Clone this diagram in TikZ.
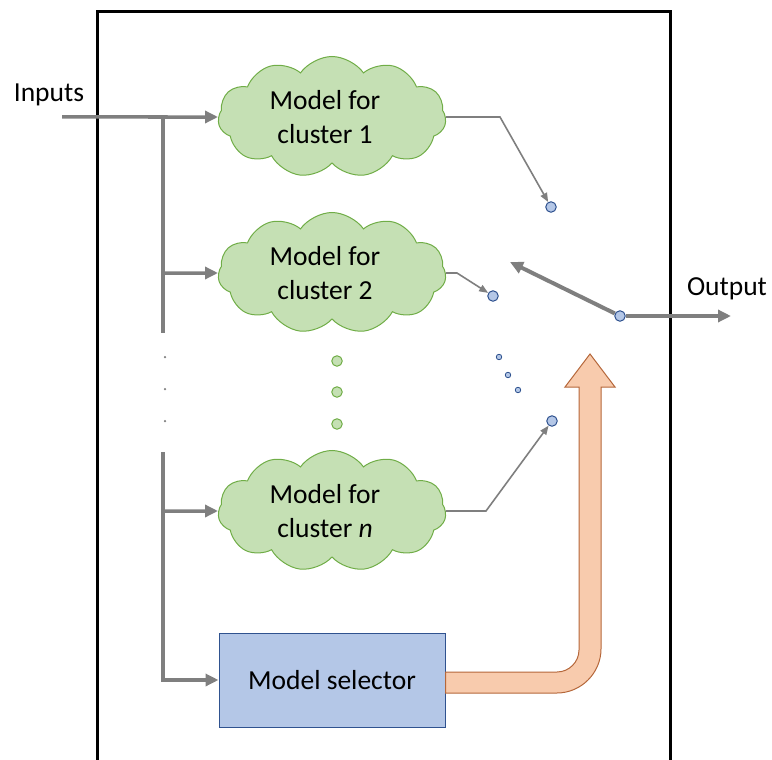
\documentclass[tikz,border=0pt]{standalone}
\usepackage{fontspec}
\setmainfont{Carlito}
\usetikzlibrary{shapes.symbols,arrows.meta}
\definecolor{cgreen}{HTML}{C5E0B4}
\definecolor{cgreenD}{HTML}{70AD47}
\definecolor{cblue}{HTML}{B4C7E7}
\definecolor{cblueD}{HTML}{2F528F}
\definecolor{corange}{HTML}{F8CBAD}
\definecolor{corangeD}{HTML}{B5673A}
\definecolor{cgray}{HTML}{7F7F7F}
\begin{document}
\begin{tikzpicture}[x=1pt,y=-1pt,
  lbl/.style={font=\fontsize{27.5}{34}\selectfont, align=center, text=black},
  modelcloud/.style={cloud, cloud puffs=11, cloud puff arc=110, cloud ignores aspect,
    minimum width=228pt, minimum height=121pt, draw=cgreenD, fill=cgreen,
    line width=1pt, inner sep=0pt},
  selbox/.style={rectangle, draw=cblueD, fill=cblue, line width=1pt,
    minimum width=226pt, minimum height=94pt, lbl},
  sdot/.style={circle, draw=cblueD, fill=cblue, line width=1pt, inner sep=0pt, minimum size=10.5pt},
  tdot/.style={circle, draw=cblueD, fill=cblue, line width=0.8pt, inner sep=0pt, minimum size=5.5pt},
  gdot/.style={circle, draw=cgreenD, fill=cgreen, line width=1pt, inner sep=0pt, minimum size=10.5pt},
  vdot/.style={circle, fill=cgray, inner sep=0pt, minimum size=2.5pt},
  feed/.style={draw=cgray, line width=3.5pt, -{Triangle[length=13pt,width=12pt]}},
  feedline/.style={draw=cgray, line width=3.5pt},
  conn/.style={draw=cgray, line width=1.6pt, -{Triangle[length=9pt,width=7pt]}},
  frame/.style={draw=black, line width=3pt},
  bigarrow/.style={draw=corangeD, fill=corange, line width=1pt, line join=miter}
]
\useasboundingbox (0,0) rectangle (772,760);
% frame
\draw[frame] (97,762) -- (97,12) -- (670,12) -- (670,762);

% labels
\node[lbl] (inlbl) at (49,95) {Inputs};
\node[lbl] (outlbl) at (727,289) {Output};

% clouds and selector
\node[modelcloud] (c1) at (332,117) {};
\node[modelcloud] (c2) at (332,273) {};
\node[modelcloud] (cn) at (332,511) {};
\node[lbl] (c1t) at (325,117) {Model for\\cluster 1};
\node[lbl] (c2t) at (325,273) {Model for\\cluster 2};
\node[lbl] (cnt) at (325,511) {Model for\\cluster \textit{n}};
\node[selbox] (sel) at (332,680) {Model selector};

% green dots
\node[gdot] (g1) at (337,361) {};
\node[gdot] (g2) at (337,392) {};
\node[gdot] (g3) at (337,424) {};

% vertical gray dots
\node[vdot] (v1) at (165,357) {};
\node[vdot] (v2) at (165,389) {};
\node[vdot] (v3) at (165,421) {};

% switch contacts
\node[sdot] (d1) at (551,207) {};
\node[sdot] (d2) at (493,296) {};
\node[tdot] (t1) at (499,357) {};
\node[tdot] (t2) at (508,375) {};
\node[tdot] (t3) at (518,390) {};
\node[sdot] (dn) at (552,421) {};
\node[sdot] (piv) at (620,316) {};

% input feed lines
\coordinate (in) at (62,117);
\coordinate (j1) at (163,117);
\coordinate (j2) at (163,273);
\coordinate (vtop) at (163,333);
\coordinate (vbot) at (163,452);
\coordinate (j3) at (163,511);
\coordinate (j4) at (163,680);
\draw[feed] (in) -- (c1.west);
\draw[feedline] (j1) -- (vtop);
\draw[feed] (j2) -- (c2.west);
\draw[feed] (j3) -- (cn.west);
\draw[feed, line join=miter] (vbot) -- (j4) -- (sel.west);

% connectors from models
\coordinate (b1) at (500,117);
\coordinate (b2) at (457,273);
\coordinate (bn) at (486,511);
\draw[conn] (c1.east) -- (b1) -- (d1);
\draw[conn] (c2.east) -- (b2) -- (d2);
\draw[conn] (cn.east) -- (bn) -- (dn);

% switch arm and output
\coordinate (armtip) at (510,262);
\coordinate (outtip) at (731,316);
\draw[feed, line width=4pt] (piv) -- (armtip);
\draw[feed, line width=4pt] (piv) -- (outtip);

% big orange arrow
\draw[bigarrow] (sel.east |- 0,672) -- (557,672)
  .. controls (569,672) and (579,662) .. (579,650)
  -- (579,387) -- (565,387) -- (590,354) -- (615,387) -- (601,387) -- (601,649)
  .. controls (601,673) and (581,693) .. (557,693)
  -- (sel.east |- 0,693) -- cycle;
\end{tikzpicture}
\end{document}
